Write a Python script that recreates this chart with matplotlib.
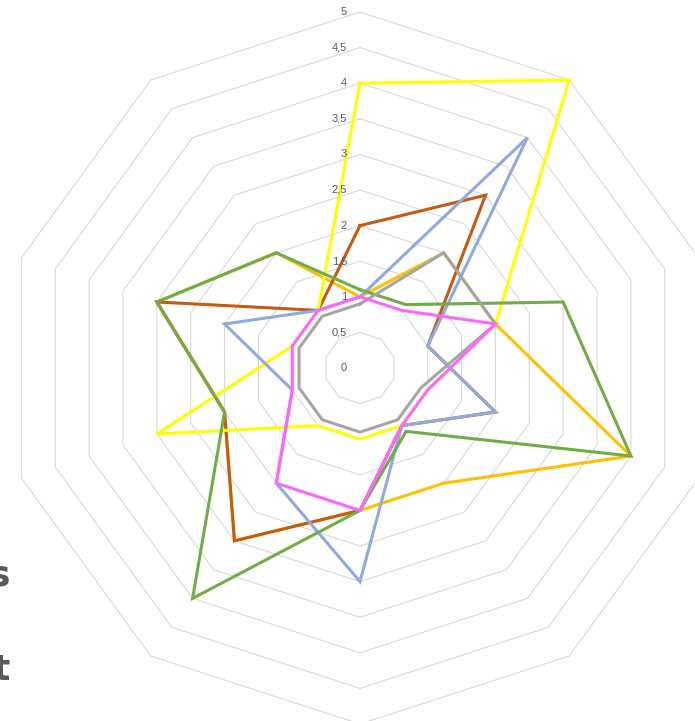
import numpy as np
import matplotlib.pyplot as plt

# 10 axes, values (scale 0..5)
n_axes = 10
ring_levels = [0.5 * i for i in range(11)]
ring_labels = ["0", "0,5", "1", "1,5", "2", "2,5", "3", "3,5", "4", "4,5", "5"]

amber = [1, 2, 2, 4, 2, 2, 3, 2, 3, 2]
brown = [2, 3, 1, 2, 1, 2, 3, 2, 3, 1]
yellow = [4, 5, 2, 1, 1, 1, 1, 3, 1, 1]
blue = [1, 4, 1, 2, 1, 3, 2, 1, 2, 1]
green = [1.1, 1.1, 3, 4, 1.1, 2, 4, 2, 3, 2]
gray = [0.9, 2, 2, 0.9, 0.9, 0.9, 0.9, 0.9, 0.9, 0.9]
pink = [1, 1, 2, 1, 1, 2, 2, 1, 1, 1]

series = [
    (amber, "#FFC000"),
    (brown, "#C55A11"),
    (yellow, "#FFFF00"),
    (blue, "#8FAADC"),
    (green, "#70AD47"),
    (gray, "#A5A5A5"),
    (pink, "#FF66FF"),
]

W, H = 695, 721
cx, cy, R = 360, 368, 356  # centre and outer radius in pixels

fig = plt.figure(figsize=(W / 100, H / 100), dpi=100)
fig.patch.set_facecolor("white")
ax = fig.add_axes([(cx - R) / W, (H - cy - R) / H, 2 * R / W, 2 * R / H], projection="polar")
ax.set_theta_zero_location("N")
ax.set_theta_direction(-1)
ax.set_ylim(0, 5)
ax.grid(False)
ax.spines["polar"].set_visible(False)
ax.set_xticks([])
ax.set_yticks([])
ax.patch.set_alpha(0)

theta = np.linspace(0, 2 * np.pi, n_axes, endpoint=False)
theta_c = np.append(theta, theta[0])

# decagon grid rings
for lev in ring_levels[1:]:
    ax.plot(theta_c, [lev] * (n_axes + 1), color="#D9D9D9", lw=0.8, zorder=0, clip_on=False)

# ring value labels
for lev, lab in zip(ring_levels, ring_labels):
    ax.annotate(lab, xy=(0, lev), xytext=(-13, 0), textcoords="offset pixels",
                ha="right", va="center", fontsize=8, color="#595959",
                family="Liberation Sans", annotation_clip=False)

for vals, col in series:
    v = np.append(vals, vals[0])
    ax.plot(theta_c, v, color=col, lw=2.2, clip_on=False, solid_joinstyle="miter")

# cut-off legend text at the left edge
fig.text(10 / W, 1 - 585 / H, "s", ha="right", va="baseline", fontsize=26,
         fontweight="bold", color="#595959")
fig.text(10 / W, 1 - 680 / H, "t", ha="right", va="baseline", fontsize=26,
         fontweight="bold", color="#595959")

fig.savefig("out.png", dpi=100)
